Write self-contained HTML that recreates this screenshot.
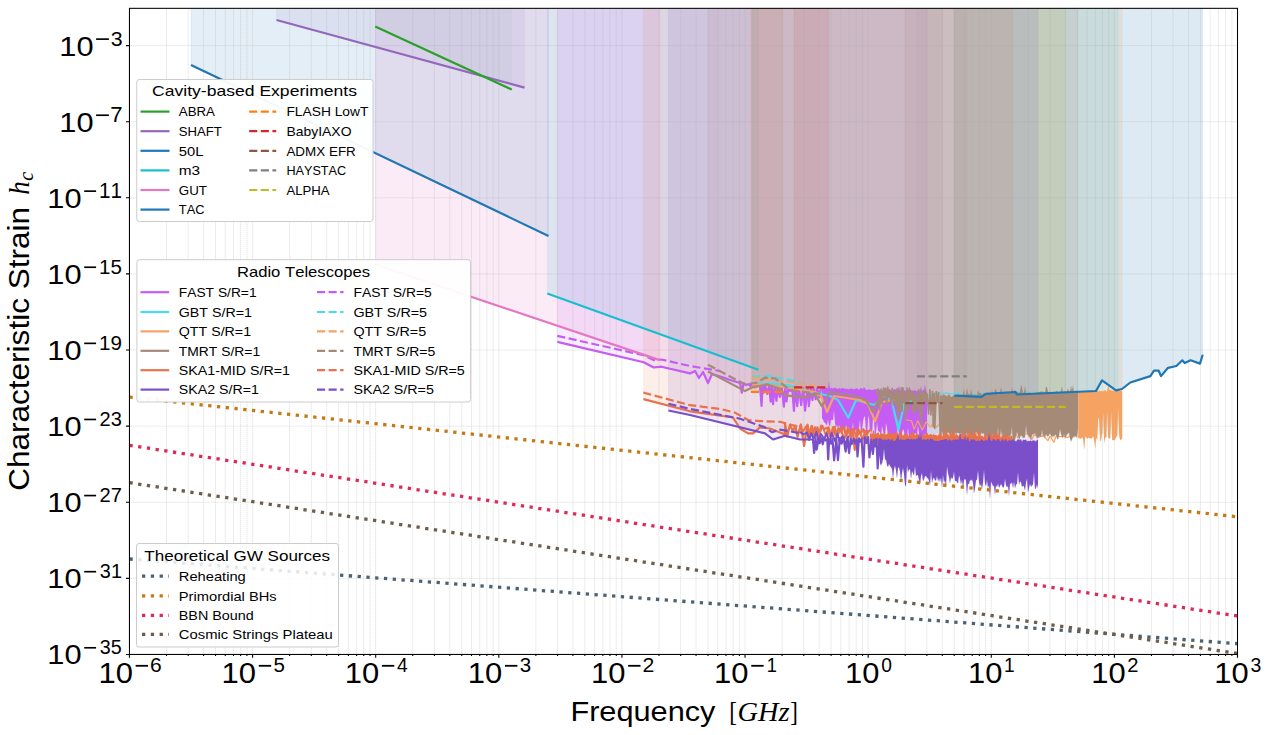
<!DOCTYPE html><html><head><meta charset="utf-8"><style>html,body{margin:0;padding:0;background:#fff;width:1269px;height:735px;overflow:hidden}</style></head><body><svg width="1269" height="735" viewBox="0 0 1269 735" style="position:absolute;left:0;top:0;font-kerning:none">
<rect width="1269" height="735" fill="#fff"/>
<defs><clipPath id="ax"><rect x="129.46" y="8.33" width="1108.04" height="646.12"/></clipPath></defs>
<g clip-path="url(#ax)">
<polygon points="375.20,8.33 375.20,26.60 511.80,89.60 511.80,8.33" fill="#2ca02c" fill-opacity="0.046" stroke="#2ca02c" stroke-opacity="0.046" stroke-width="0.6"/>
<polygon points="276.50,8.33 276.50,20.00 524.50,87.60 524.50,8.33" fill="#9467bd" fill-opacity="0.097" stroke="#9467bd" stroke-opacity="0.097" stroke-width="0.6"/>
<polygon points="954.20,8.33 954.20,395.70 981.40,396.90 986.00,393.80 1015.60,392.00 1017.00,394.50 1096.00,391.00 1102.00,380.40 1116.00,390.30 1122.00,389.00 1130.30,382.50 1150.40,376.10 1154.00,370.70 1158.70,370.70 1161.00,376.10 1168.00,367.80 1176.40,366.00 1182.30,360.30 1184.70,363.10 1190.60,360.30 1200.00,363.60 1202.70,354.80 1202.70,8.33" fill="#1f77b4" fill-opacity="0.151" stroke="#1f77b4" stroke-opacity="0.151" stroke-width="0.6"/>
<polygon points="547.30,8.33 547.30,293.50 758.40,369.70 758.40,8.33" fill="#17becf" fill-opacity="0.137" stroke="#17becf" stroke-opacity="0.137" stroke-width="0.6"/>
<polygon points="375.50,8.33 375.50,264.60 659.70,360.10 659.70,8.33" fill="#e377c2" fill-opacity="0.145" stroke="#e377c2" stroke-opacity="0.145" stroke-width="0.6"/>
<polygon points="191.00,8.33 191.00,65.00 548.50,236.00 548.50,8.33" fill="#1f77b4" fill-opacity="0.123" stroke="#1f77b4" stroke-opacity="0.123" stroke-width="0.6"/>
<polygon points="750.90,8.33 750.90,391.80 782.80,391.80 782.80,8.33" fill="#ff7f0e" fill-opacity="0.162" stroke="#ff7f0e" stroke-opacity="0.162" stroke-width="0.6"/>
<polygon points="794.00,8.33 794.00,387.40 828.80,387.40 828.80,8.33" fill="#d62728" fill-opacity="0.149" stroke="#d62728" stroke-opacity="0.149" stroke-width="0.6"/>
<polygon points="905.30,8.33 905.30,403.10 942.60,403.10 942.60,8.33" fill="#8c564b" fill-opacity="0.099" stroke="#8c564b" stroke-opacity="0.099" stroke-width="0.6"/>
<polygon points="916.90,8.33 916.90,376.40 966.80,376.40 966.80,8.33" fill="#7f7f7f" fill-opacity="0.071" stroke="#7f7f7f" stroke-opacity="0.071" stroke-width="0.6"/>
<polygon points="954.20,8.33 954.20,406.80 1065.80,406.80 1065.80,8.33" fill="#bcbd22" fill-opacity="0.136" stroke="#bcbd22" stroke-opacity="0.136" stroke-width="0.6"/>
<polygon points="557.30,8.33 557.30,341.90 643.70,362.30 653.60,367.50 661.40,366.70 690.00,373.40 695.00,371.00 699.00,378.00 703.00,372.00 708.00,383.00 712.00,374.00 722.00,377.00 730.00,380.00 740.00,383.00 740.00,382.68 741.84,392.79 743.56,383.00 745.74,384.94 748.15,384.19 750.45,385.84 752.19,384.40 755.12,387.40 757.07,384.93 760.00,385.42 761.56,406.02 762.62,385.27 764.03,392.64 765.19,385.94 767.33,393.91 769.15,385.80 770.67,401.57 771.76,386.51 773.05,404.06 774.64,386.39 776.46,400.77 777.88,386.07 779.86,396.82 781.67,386.52 783.89,406.67 785.29,386.24 786.46,401.49 788.52,387.23 790.20,390.97 792.14,386.79 793.94,410.81 795.38,387.02 797.21,406.25 798.85,387.04 801.17,405.08 803.10,388.03 805.09,410.70 807.48,387.48 808.88,406.24 810.81,388.44 812.46,400.17 813.62,388.54 815.70,399.24 817.04,388.37 819.26,397.31 820.89,388.40 822.00,418.23 823.00,419.42 824.00,422.17 825.00,422.60 826.00,424.62 827.00,424.97 828.00,419.24 829.00,425.43 830.00,425.65 831.00,420.03 832.00,419.76 833.00,420.14 834.00,410.02 835.00,423.28 836.00,427.45 837.00,424.43 838.00,429.37 839.00,424.99 840.00,427.42 841.00,434.47 842.00,433.28 843.00,426.67 844.00,432.11 845.00,432.06 846.00,424.69 847.00,428.40 848.00,427.63 849.00,426.69 850.00,433.23 851.00,433.78 852.00,430.05 853.00,421.88 854.00,432.71 855.00,430.21 856.00,430.42 857.00,433.95 858.00,434.76 859.00,427.78 860.00,418.94 861.00,435.09 862.00,428.89 863.00,421.42 864.00,417.10 865.00,416.37 866.00,431.51 867.00,435.62 868.00,418.89 869.00,415.40 870.00,433.09 871.00,428.77 872.00,435.01 873.00,417.48 874.00,419.90 875.00,436.01 876.00,432.21 877.00,421.56 878.00,430.41 879.00,431.80 880.00,432.11 881.00,437.77 882.00,425.80 883.00,430.48 884.00,434.85 885.00,437.24 886.00,422.68 887.00,427.78 888.00,436.77 889.00,433.79 890.00,437.10 891.00,440.75 892.00,441.67 893.00,436.38 894.00,433.64 895.00,436.95 896.00,435.69 897.00,436.11 898.00,416.05 899.00,437.35 900.00,438.40 901.00,445.06 902.00,432.77 903.00,429.06 904.00,431.01 905.00,436.75 906.00,439.07 907.00,438.19 908.00,427.32 909.00,437.70 910.00,442.87 911.00,433.44 912.00,437.25 913.00,433.25 914.00,435.39 915.00,433.30 916.00,433.57 917.00,434.85 918.00,425.75 919.00,433.35 920.00,439.30 921.00,438.87 922.00,439.16 923.00,436.84 924.00,437.01 925.00,433.74 926.00,433.93 927.00,436.15 927.00,8.33" fill="#c45cf5" fill-opacity="0.103" stroke="#c45cf5" stroke-opacity="0.103" stroke-width="0.6"/>
<polygon points="752.00,8.33 752.00,383.80 775.00,383.80 790.00,385.60 810.00,391.70 830.00,396.00 838.00,400.00 848.30,417.70 856.00,400.00 874.00,405.00 886.00,395.00 892.00,402.00 898.50,430.00 904.00,404.00 925.00,395.00 925.00,433.38 930.45,436.50 936.70,432.25 940.51,434.02 946.44,432.78 952.32,434.02 958.57,432.99 964.93,437.74 969.91,433.95 976.55,435.14 983.03,433.20 986.78,437.46 991.25,433.51 995.73,435.77 998.75,432.44 1003.53,435.33 1007.02,431.86 1013.28,437.75 1017.57,431.87 1022.09,436.82 1025.34,431.38 1032.15,435.22 1037.21,432.41 1042.36,434.00 1049.22,433.33 1052.95,434.05 1056.96,431.55 1060.08,434.05 1065.87,433.41 1068.94,435.80 1074.25,432.43 1080.06,434.05 1086.54,431.85 1089.72,434.08 1094.69,432.50 1098.81,434.07 1103.43,433.59 1108.80,437.71 1112.39,432.28 1118.38,434.14 1118.38,8.33" fill="#44dcee" fill-opacity="0.168" stroke="#44dcee" stroke-opacity="0.168" stroke-width="0.6"/>
<polygon points="752.00,8.33 752.00,384.40 770.00,385.00 790.00,388.00 815.00,392.00 821.00,396.00 827.00,412.00 834.00,396.00 860.00,400.00 868.00,404.00 875.20,421.30 882.00,402.00 905.00,398.00 905.00,419.11 908.64,420.44 911.54,420.77 914.11,429.23 917.93,420.87 922.30,429.95 926.14,421.89 930.02,427.01 933.80,422.73 936.44,427.36 939.82,423.36 942.12,424.54 944.23,423.88 948.97,428.69 952.08,424.76 956.44,428.47 959.21,426.12 962.48,427.38 965.77,426.56 970.57,427.78 974.28,428.17 976.63,434.40 980.36,428.01 983.70,429.33 986.86,429.11 991.67,439.80 995.10,430.27 997.40,434.29 1000.04,431.11 1002.09,431.51 1006.14,431.87 1011.04,432.59 1015.65,432.98 1017.70,437.75 1020.43,432.95 1022.99,433.99 1027.31,433.78 1031.88,439.59 1034.13,434.68 1038.26,437.23 1043.06,435.83 1047.95,440.57 1049.98,436.25 1053.93,442.41 1056.17,436.11 1060.36,436.65 1064.94,436.17 1067.12,437.53 1070.85,436.37 1074.88,437.00 1078.20,437.67 1079.20,438.53 1080.20,438.22 1081.20,438.95 1082.20,436.77 1083.20,439.55 1084.20,449.50 1085.20,436.52 1086.20,436.98 1087.20,439.09 1088.20,437.75 1089.20,437.82 1090.20,438.51 1091.20,438.65 1092.20,437.61 1093.20,436.10 1094.20,439.91 1095.20,448.05 1096.20,437.46 1097.20,440.34 1098.20,417.17 1099.20,419.63 1100.20,441.29 1101.20,439.79 1102.20,432.15 1103.20,412.57 1104.20,442.97 1105.20,437.76 1106.20,437.50 1107.20,411.07 1108.20,437.23 1109.20,438.32 1110.20,438.30 1111.20,411.01 1112.20,440.30 1113.20,440.10 1114.20,440.37 1115.20,439.15 1116.20,436.77 1117.20,436.21 1118.20,408.09 1119.20,435.64 1120.20,440.14 1121.20,439.39 1122.20,438.54 1122.20,8.33" fill="#f5a262" fill-opacity="0.155" stroke="#f5a262" stroke-opacity="0.155" stroke-width="0.6"/>
<polygon points="708.00,8.33 708.00,371.50 745.00,391.10 752.00,387.50 767.00,384.40 780.00,388.70 785.00,395.40 805.00,397.30 815.00,394.20 822.00,406.40 830.00,392.00 857.00,396.50 866.00,400.00 873.00,412.00 879.00,398.00 885.00,398.00 885.55,388.22 886.57,404.95 887.83,387.11 888.66,397.25 889.60,389.75 890.88,404.24 892.28,388.32 893.38,404.88 894.95,390.63 896.37,406.12 897.19,388.52 898.09,418.98 899.19,391.51 900.01,411.15 901.27,387.84 902.02,411.11 902.83,387.81 903.57,400.24 904.24,390.80 905.73,420.28 907.07,387.95 908.60,411.03 909.38,388.41 910.73,399.59 911.99,391.36 912.97,412.17 913.74,393.34 914.62,413.11 916.17,392.89 917.74,409.66 918.69,389.56 920.12,416.64 920.76,391.43 921.74,426.51 922.53,392.09 924.03,401.19 925.04,390.01 926.40,402.54 927.04,393.88 928.56,413.92 929.91,389.88 930.85,415.00 932.40,391.44 933.27,427.08 934.18,393.26 934.79,428.40 936.30,391.60 937.85,402.23 938.68,392.54 940.24,434.16 940.00,433.95 941.00,436.29 942.00,430.73 943.00,435.47 944.00,436.39 945.00,433.80 946.00,435.94 947.00,432.79 948.00,432.50 949.00,433.08 950.00,436.49 951.00,436.60 952.00,431.73 953.00,433.54 954.00,442.36 955.00,431.99 956.00,435.08 957.00,432.49 958.00,432.99 959.00,433.12 960.00,433.67 961.00,432.58 962.00,434.20 963.00,436.82 964.00,433.90 965.00,441.74 966.00,432.25 967.00,434.12 968.00,436.93 969.00,432.75 970.00,432.36 971.00,443.54 972.00,435.96 973.00,436.21 974.00,435.06 975.00,432.92 976.00,432.34 977.00,432.31 978.00,434.41 979.00,436.92 980.00,438.53 981.00,432.33 982.00,433.82 983.00,433.39 984.00,433.10 985.00,441.74 986.00,435.92 987.00,436.48 988.00,436.14 989.00,443.90 990.00,436.27 991.00,436.51 992.00,436.83 993.00,433.84 994.00,443.12 995.00,438.43 996.00,436.30 997.00,437.53 998.00,425.93 999.00,440.65 1000.00,438.19 1001.00,427.85 1002.00,437.69 1003.00,432.77 1004.00,437.48 1005.00,436.16 1006.00,440.74 1007.00,437.72 1008.00,438.85 1009.00,435.79 1010.00,437.57 1011.00,433.04 1012.00,426.83 1013.00,442.38 1014.00,445.68 1015.00,440.07 1016.00,435.75 1017.00,431.65 1018.00,435.08 1019.00,440.13 1020.00,437.43 1021.00,435.31 1022.00,435.94 1023.00,438.32 1024.00,437.40 1025.00,437.38 1026.00,424.60 1027.00,434.34 1028.00,434.14 1029.00,437.02 1030.00,437.13 1031.00,440.25 1032.00,434.61 1033.00,434.23 1034.00,433.82 1035.00,433.21 1036.00,435.54 1037.00,438.41 1038.00,436.93 1039.00,437.69 1040.00,435.45 1041.00,437.40 1042.00,429.66 1043.00,436.91 1044.00,435.37 1045.00,437.95 1046.00,433.63 1047.00,436.29 1048.00,436.15 1049.00,435.25 1050.00,432.90 1051.00,435.44 1052.00,437.69 1053.00,435.24 1054.00,436.94 1055.00,434.97 1056.00,434.56 1057.00,438.45 1058.00,439.58 1059.00,435.86 1060.00,429.07 1061.00,433.48 1062.00,437.09 1063.00,437.93 1064.00,433.68 1065.00,438.76 1066.00,436.22 1067.00,434.35 1068.00,433.51 1069.00,432.55 1070.00,438.38 1071.00,441.83 1072.00,439.37 1073.00,436.88 1074.00,436.18 1075.00,436.38 1076.00,436.03 1077.00,438.04 1078.00,428.27 1078.00,8.33" fill="#a68a78" fill-opacity="0.117" stroke="#a68a78" stroke-opacity="0.117" stroke-width="0.6"/>
<polygon points="643.40,8.33 643.40,399.10 690.00,411.30 733.00,417.50 740.00,428.50 748.00,433.40 753.00,433.40 760.00,427.30 770.00,428.50 785.00,434.60 785.00,423.19 787.28,436.57 789.83,425.10 793.21,431.53 795.19,425.59 797.56,436.82 800.89,424.49 804.08,446.01 807.50,424.52 809.50,435.76 811.73,425.98 813.37,434.61 814.91,427.34 818.35,439.35 821.11,425.70 824.38,429.13 827.17,427.68 830.02,436.00 833.37,426.98 835.37,435.11 838.77,428.30 840.88,431.49 843.57,426.58 846.10,436.11 848.67,429.30 850.42,434.35 852.73,429.12 854.72,449.83 857.90,428.46 860.54,433.77 863.46,429.23 866.05,437.32 868.17,430.17 870.00,453.13 871.20,442.99 872.40,442.01 873.60,442.87 874.80,443.78 876.00,443.43 877.20,443.83 878.40,444.36 879.60,443.39 880.80,444.00 882.00,443.04 883.20,442.84 884.40,443.03 885.60,443.46 886.80,444.25 888.00,457.60 889.20,443.38 890.40,442.95 891.60,443.83 892.80,443.50 894.00,443.15 895.20,444.30 896.40,443.40 897.60,444.85 898.80,443.43 900.00,443.73 901.20,444.30 902.40,444.48 903.60,443.63 904.80,443.71 906.00,442.32 907.20,443.86 908.40,443.00 909.60,442.35 910.80,468.16 912.00,443.94 913.20,443.04 914.40,445.00 915.60,444.29 916.80,444.53 918.00,445.08 919.20,443.34 920.40,443.25 921.60,442.32 922.80,442.51 924.00,444.76 925.20,443.40 926.40,442.97 927.60,445.00 928.80,442.95 930.00,443.14 931.20,443.28 932.40,443.33 933.60,443.88 934.80,442.78 936.00,444.74 937.20,442.52 938.40,444.43 939.60,444.35 940.80,445.74 942.00,452.35 943.20,444.23 944.40,466.94 945.60,451.22 946.80,445.31 948.00,444.83 949.20,443.87 950.40,444.50 951.60,444.17 952.80,445.07 954.00,444.30 955.20,443.29 956.40,443.41 957.60,443.77 958.80,443.73 960.00,444.75 961.20,443.11 962.40,443.37 963.60,444.21 964.80,445.07 966.00,443.16 967.20,442.87 968.40,444.82 969.60,445.40 970.80,445.68 972.00,443.90 973.20,444.59 974.40,444.83 975.60,444.45 976.80,443.22 978.00,455.58 979.20,445.58 980.40,444.58 981.60,445.53 982.80,444.76 984.00,444.46 985.20,445.99 986.40,444.94 987.60,445.08 988.80,445.19 990.00,444.91 991.20,443.53 992.40,445.79 993.60,444.68 994.80,444.77 996.00,445.84 997.20,446.24 998.40,443.80 999.60,452.26 1000.80,443.96 1002.00,445.20 1003.20,443.85 1004.40,445.84 1005.60,462.45 1006.80,443.74 1008.00,444.76 1009.20,445.84 1010.40,444.59 1011.60,445.89 1012.80,444.99 1012.80,8.33" fill="#e8724c" fill-opacity="0.12" stroke="#e8724c" stroke-opacity="0.12" stroke-width="0.6"/>
<polygon points="668.40,8.33 668.40,410.50 690.00,415.00 765.00,433.40 773.00,439.50 785.00,435.80 800.00,439.50 813.00,439.50 813.00,439.89 814.14,452.90 815.55,438.57 816.65,449.63 818.69,438.17 819.69,443.19 821.75,438.23 822.71,444.34 824.21,438.27 825.62,440.37 827.27,439.00 828.20,459.36 829.16,439.56 830.93,443.67 832.48,439.21 834.12,460.35 836.31,439.90 837.94,460.07 839.84,438.10 841.57,443.74 843.50,437.38 845.62,451.53 847.52,437.78 849.08,452.99 850.69,438.78 851.67,444.06 853.86,438.56 855.23,443.35 856.59,439.59 857.50,456.37 858.98,438.29 860.27,441.57 861.56,439.07 863.41,466.64 864.75,437.24 866.41,442.85 868.06,437.04 869.43,457.49 871.45,439.80 872.98,453.81 874.22,439.93 875.33,446.48 876.52,438.80 877.68,468.40 879.42,439.41 881.27,463.45 880.00,462.99 881.00,465.76 882.00,461.99 883.00,459.49 884.00,448.60 885.00,460.32 886.00,459.31 887.00,465.33 888.00,466.93 889.00,463.85 890.00,465.94 891.00,467.37 892.00,468.89 893.00,478.59 894.00,469.15 895.00,465.57 896.00,470.40 897.00,477.99 898.00,468.03 899.00,467.14 900.00,471.57 901.00,480.79 902.00,472.83 903.00,467.92 904.00,474.06 905.00,484.65 906.00,486.48 907.00,464.72 908.00,472.27 909.00,469.18 910.00,469.41 911.00,478.67 912.00,470.96 913.00,473.17 914.00,475.50 915.00,465.94 916.00,475.89 917.00,475.07 918.00,475.33 919.00,480.04 920.00,484.70 921.00,475.72 922.00,473.26 923.00,481.33 924.00,479.20 925.00,476.20 926.00,475.87 927.00,477.69 928.00,478.19 929.00,480.70 930.00,485.77 931.00,470.61 932.00,482.87 933.00,478.45 934.00,477.69 935.00,480.33 936.00,480.75 937.00,475.86 938.00,481.59 939.00,478.31 940.00,481.99 941.00,477.16 942.00,487.46 943.00,474.79 944.00,482.72 945.00,480.06 946.00,487.62 947.00,465.88 948.00,472.99 949.00,477.06 950.00,483.28 951.00,476.92 952.00,479.04 953.00,477.53 954.00,471.79 955.00,481.29 956.00,480.46 957.00,482.14 958.00,483.43 959.00,475.36 960.00,478.58 961.00,484.46 962.00,479.79 963.00,488.37 964.00,480.26 965.00,478.59 966.00,480.85 967.00,494.68 968.00,483.53 969.00,484.28 970.00,479.48 971.00,480.88 972.00,479.35 973.00,482.62 974.00,493.29 975.00,488.01 976.00,480.24 977.00,479.63 978.00,470.13 979.00,481.78 980.00,486.55 981.00,483.86 982.00,489.28 983.00,482.39 984.00,470.02 985.00,483.83 986.00,486.15 987.00,480.04 988.00,488.05 989.00,485.00 990.00,498.17 991.00,481.53 992.00,483.38 993.00,486.00 994.00,485.73 995.00,494.67 996.00,485.20 997.00,487.11 998.00,483.41 999.00,487.66 1000.00,486.33 1001.00,483.74 1002.00,485.81 1003.00,487.71 1004.00,486.92 1005.00,478.77 1006.00,485.17 1007.00,487.14 1008.00,486.04 1009.00,495.82 1010.00,483.43 1011.00,483.74 1012.00,482.15 1013.00,488.24 1014.00,481.54 1015.00,488.21 1016.00,484.39 1017.00,483.89 1018.00,472.16 1019.00,484.57 1020.00,481.32 1021.00,482.24 1022.00,487.12 1023.00,485.54 1024.00,486.65 1025.00,490.41 1026.00,482.46 1027.00,478.59 1028.00,492.85 1029.00,488.12 1030.00,483.68 1031.00,486.69 1032.00,485.41 1033.00,484.60 1034.00,472.25 1035.00,489.32 1036.00,487.88 1037.00,484.35 1038.00,488.15 1038.00,8.33" fill="#7b4fc9" fill-opacity="0.116" stroke="#7b4fc9" stroke-opacity="0.116" stroke-width="0.6"/>
<polygon points="557.30,8.33 557.30,335.90 643.70,355.20 653.60,360.10 661.40,359.50 690.00,366.00 720.00,371.00 720.00,8.33" fill="#c45cf5" fill-opacity="0.02" stroke="#c45cf5" stroke-opacity="0.02" stroke-width="0.6"/>
<path d="M129.46 8.33V654.45M166.52 8.33V654.45M188.20 8.33V654.45M203.58 8.33V654.45M215.51 8.33V654.45M225.26 8.33V654.45M233.50 8.33V654.45M240.64 8.33V654.45M246.94 8.33V654.45M252.58 8.33V654.45M289.64 8.33V654.45M311.32 8.33V654.45M326.70 8.33V654.45M338.63 8.33V654.45M348.38 8.33V654.45M356.62 8.33V654.45M363.76 8.33V654.45M370.06 8.33V654.45M375.69 8.33V654.45M412.75 8.33V654.45M434.43 8.33V654.45M449.81 8.33V654.45M461.75 8.33V654.45M471.49 8.33V654.45M479.74 8.33V654.45M486.88 8.33V654.45M493.17 8.33V654.45M498.81 8.33V654.45M535.87 8.33V654.45M557.55 8.33V654.45M572.93 8.33V654.45M584.86 8.33V654.45M594.61 8.33V654.45M602.85 8.33V654.45M609.99 8.33V654.45M616.29 8.33V654.45M621.92 8.33V654.45M658.98 8.33V654.45M680.66 8.33V654.45M696.05 8.33V654.45M707.98 8.33V654.45M717.72 8.33V654.45M725.97 8.33V654.45M733.11 8.33V654.45M739.40 8.33V654.45M745.04 8.33V654.45M782.10 8.33V654.45M803.78 8.33V654.45M819.16 8.33V654.45M831.09 8.33V654.45M840.84 8.33V654.45M849.08 8.33V654.45M856.22 8.33V654.45M862.52 8.33V654.45M868.15 8.33V654.45M905.21 8.33V654.45M926.89 8.33V654.45M942.28 8.33V654.45M954.21 8.33V654.45M963.96 8.33V654.45M972.20 8.33V654.45M979.34 8.33V654.45M985.64 8.33V654.45M991.27 8.33V654.45M1028.33 8.33V654.45M1050.01 8.33V654.45M1065.39 8.33V654.45M1077.32 8.33V654.45M1087.07 8.33V654.45M1095.31 8.33V654.45M1102.45 8.33V654.45M1108.75 8.33V654.45M1114.38 8.33V654.45M1151.45 8.33V654.45M1173.13 8.33V654.45M1188.51 8.33V654.45M1200.44 8.33V654.45M1210.19 8.33V654.45M1218.43 8.33V654.45M1225.57 8.33V654.45M1231.87 8.33V654.45M1237.50 8.33V654.45M129.46 45.60H1237.5M129.46 121.71H1237.5M129.46 197.82H1237.5M129.46 273.92H1237.5M129.46 350.03H1237.5M129.46 426.14H1237.5M129.46 502.25H1237.5M129.46 578.36H1237.5M129.46 654.46H1237.5" stroke="#a8a8a8" stroke-opacity="0.5" stroke-width="0.85" stroke-dasharray="1 1" fill="none"/>
<polyline points="557.30,341.90 643.70,362.30 653.60,367.50 661.40,366.70 690.00,373.40 695.00,371.00 699.00,378.00 703.00,372.00 708.00,383.00 712.00,374.00 722.00,377.00 730.00,380.00 740.00,383.00 740.00,382.68 741.84,392.79 743.56,383.00 745.74,384.94 748.15,384.19 750.45,385.84 752.19,384.40 755.12,387.40 757.07,384.93 760.00,385.42 761.56,406.02 762.62,385.27 764.03,392.64 765.19,385.94 767.33,393.91 769.15,385.80 770.67,401.57 771.76,386.51 773.05,404.06 774.64,386.39 776.46,400.77 777.88,386.07 779.86,396.82 781.67,386.52 783.89,406.67 785.29,386.24 786.46,401.49 788.52,387.23 790.20,390.97 792.14,386.79 793.94,410.81 795.38,387.02 797.21,406.25 798.85,387.04 801.17,405.08 803.10,388.03 805.09,410.70 807.48,387.48 808.88,406.24 810.81,388.44 812.46,400.17 813.62,388.54 815.70,399.24 817.04,388.37 819.26,397.31 820.89,388.40" fill="none" stroke="#c45cf5" stroke-width="2.2" stroke-linejoin="round"/>
<polygon points="822.00,387.36 823.00,387.26 824.00,388.09 825.00,387.95 826.00,387.76 827.00,387.54 828.00,388.75 829.00,381.47 830.00,388.49 831.00,388.28 832.00,387.62 833.00,389.01 834.00,387.61 835.00,388.30 836.00,387.42 837.00,388.96 838.00,388.93 839.00,387.50 840.00,389.11 841.00,388.57 842.00,387.99 843.00,387.98 844.00,388.16 845.00,389.35 846.00,388.57 847.00,388.64 848.00,389.30 849.00,389.23 850.00,388.86 851.00,388.80 852.00,388.23 853.00,389.21 854.00,389.39 855.00,388.40 856.00,388.92 857.00,388.09 858.00,388.88 859.00,389.88 860.00,388.26 861.00,388.15 862.00,388.13 863.00,389.46 864.00,386.63 865.00,388.62 866.00,389.68 867.00,389.73 868.00,390.10 869.00,389.04 870.00,389.43 871.00,390.10 872.00,389.76 873.00,390.06 874.00,389.34 875.00,389.61 876.00,389.12 877.00,389.26 878.00,390.04 879.00,389.24 880.00,390.30 881.00,389.54 882.00,390.66 883.00,390.68 884.00,390.11 885.00,389.43 886.00,388.81 887.00,389.02 888.00,389.82 889.00,389.08 890.00,390.17 891.00,389.66 892.00,389.94 893.00,390.82 894.00,389.05 895.00,389.49 896.00,389.57 897.00,389.74 898.00,390.18 899.00,385.59 900.00,390.63 901.00,390.91 902.00,389.45 903.00,387.27 904.00,390.65 905.00,391.07 906.00,390.59 907.00,390.51 908.00,389.52 909.00,389.50 910.00,389.56 911.00,389.97 912.00,390.81 913.00,390.22 914.00,391.14 915.00,389.59 916.00,391.43 917.00,390.14 918.00,390.99 919.00,390.44 920.00,390.92 921.00,386.03 922.00,391.78 923.00,389.86 924.00,389.95 925.00,384.50 926.00,391.28 927.00,391.69 927.00,436.15 926.00,433.93 925.00,433.74 924.00,437.01 923.00,436.84 922.00,439.16 921.00,438.87 920.00,439.30 919.00,433.35 918.00,425.75 917.00,434.85 916.00,433.57 915.00,433.30 914.00,435.39 913.00,433.25 912.00,437.25 911.00,433.44 910.00,442.87 909.00,437.70 908.00,427.32 907.00,438.19 906.00,439.07 905.00,436.75 904.00,431.01 903.00,429.06 902.00,432.77 901.00,445.06 900.00,438.40 899.00,437.35 898.00,416.05 897.00,436.11 896.00,435.69 895.00,436.95 894.00,433.64 893.00,436.38 892.00,441.67 891.00,440.75 890.00,437.10 889.00,433.79 888.00,436.77 887.00,427.78 886.00,422.68 885.00,437.24 884.00,434.85 883.00,430.48 882.00,425.80 881.00,437.77 880.00,432.11 879.00,431.80 878.00,430.41 877.00,421.56 876.00,432.21 875.00,436.01 874.00,419.90 873.00,417.48 872.00,435.01 871.00,428.77 870.00,433.09 869.00,415.40 868.00,418.89 867.00,435.62 866.00,431.51 865.00,416.37 864.00,417.10 863.00,421.42 862.00,428.89 861.00,435.09 860.00,418.94 859.00,427.78 858.00,434.76 857.00,433.95 856.00,430.42 855.00,430.21 854.00,432.71 853.00,421.88 852.00,430.05 851.00,433.78 850.00,433.23 849.00,426.69 848.00,427.63 847.00,428.40 846.00,424.69 845.00,432.06 844.00,432.11 843.00,426.67 842.00,433.28 841.00,434.47 840.00,427.42 839.00,424.99 838.00,429.37 837.00,424.43 836.00,427.45 835.00,423.28 834.00,410.02 833.00,420.14 832.00,419.76 831.00,420.03 830.00,425.65 829.00,425.43 828.00,419.24 827.00,424.97 826.00,424.62 825.00,422.60 824.00,422.17 823.00,419.42 822.00,418.23" fill="#c45cf5"/>
<polyline points="752.00,383.80 775.00,383.80 790.00,385.60 810.00,391.70 830.00,396.00 838.00,400.00 848.30,417.70 856.00,400.00 874.00,405.00 886.00,395.00 892.00,402.00 898.50,430.00 904.00,404.00 925.00,395.00" fill="none" stroke="#44dcee" stroke-width="2.2" stroke-linejoin="round"/>
<polyline points="925.00,393.38 930.45,396.50 936.70,392.25 940.51,394.02 946.44,392.78 952.32,394.02 958.57,392.99 964.93,397.74 969.91,393.95 976.55,395.14 983.03,393.20 986.78,397.46 991.25,393.51 995.73,395.77 998.75,392.44 1003.53,395.33 1007.02,391.86 1013.28,397.75 1017.57,391.87 1022.09,396.82 1025.34,391.38 1032.15,395.22 1037.21,392.41 1042.36,394.00 1049.22,393.33 1052.95,394.05 1056.96,391.55 1060.08,394.05 1065.87,393.41 1068.94,395.80 1074.25,392.43 1080.06,394.05 1086.54,391.85 1089.72,394.08 1094.69,392.50 1098.81,394.07 1103.43,393.59 1108.80,397.71 1112.39,392.28 1118.38,394.14" fill="none" stroke="#44dcee" stroke-width="1.2" stroke-linejoin="round"/>
<polyline points="752.00,384.40 770.00,385.00 790.00,388.00 815.00,392.00 821.00,396.00 827.00,412.00 834.00,396.00 860.00,400.00 868.00,404.00 875.20,421.30 882.00,402.00 905.00,398.00" fill="none" stroke="#f5a262" stroke-width="2.2" stroke-linejoin="round"/>
<polyline points="905.00,419.11 908.64,420.44 911.54,420.77 914.11,429.23 917.93,420.87 922.30,429.95 926.14,421.89 930.02,427.01 933.80,422.73 936.44,427.36 939.82,423.36 942.12,424.54 944.23,423.88 948.97,428.69 952.08,424.76 956.44,428.47 959.21,426.12 962.48,427.38 965.77,426.56 970.57,427.78 974.28,428.17 976.63,434.40 980.36,428.01 983.70,429.33 986.86,429.11 991.67,439.80 995.10,430.27 997.40,434.29 1000.04,431.11 1002.09,431.51 1006.14,431.87 1011.04,432.59 1015.65,432.98 1017.70,437.75 1020.43,432.95 1022.99,433.99 1027.31,433.78 1031.88,439.59 1034.13,434.68 1038.26,437.23 1043.06,435.83 1047.95,440.57 1049.98,436.25 1053.93,442.41 1056.17,436.11 1060.36,436.65 1064.94,436.17 1067.12,437.53 1070.85,436.37 1074.88,437.00" fill="none" stroke="#f5a262" stroke-width="1.2" stroke-linejoin="round"/>
<polygon points="1078.20,392.26 1079.20,391.37 1080.20,392.78 1081.20,391.64 1082.20,391.95 1083.20,390.97 1084.20,391.54 1085.20,390.94 1086.20,391.26 1087.20,390.99 1088.20,391.32 1089.20,390.99 1090.20,390.90 1091.20,391.36 1092.20,391.99 1093.20,391.27 1094.20,392.05 1095.20,391.53 1096.20,391.20 1097.20,390.23 1098.20,392.01 1099.20,390.30 1100.20,391.20 1101.20,390.66 1102.20,391.58 1103.20,391.15 1104.20,390.39 1105.20,389.88 1106.20,391.51 1107.20,391.34 1108.20,383.82 1109.20,389.80 1110.20,389.85 1111.20,390.54 1112.20,390.34 1113.20,391.09 1114.20,390.37 1115.20,391.20 1116.20,390.69 1117.20,389.22 1118.20,391.06 1119.20,390.45 1120.20,390.71 1121.20,390.76 1122.20,390.84 1122.20,438.54 1121.20,439.39 1120.20,440.14 1119.20,435.64 1118.20,408.09 1117.20,436.21 1116.20,436.77 1115.20,439.15 1114.20,440.37 1113.20,440.10 1112.20,440.30 1111.20,411.01 1110.20,438.30 1109.20,438.32 1108.20,437.23 1107.20,411.07 1106.20,437.50 1105.20,437.76 1104.20,442.97 1103.20,412.57 1102.20,432.15 1101.20,439.79 1100.20,441.29 1099.20,419.63 1098.20,417.17 1097.20,440.34 1096.20,437.46 1095.20,448.05 1094.20,439.91 1093.20,436.10 1092.20,437.61 1091.20,438.65 1090.20,438.51 1089.20,437.82 1088.20,437.75 1087.20,439.09 1086.20,436.98 1085.20,436.52 1084.20,449.50 1083.20,439.55 1082.20,436.77 1081.20,438.95 1080.20,438.22 1079.20,438.53 1078.20,437.67" fill="#f5a262"/>
<polyline points="876.00,389.88 877.20,393.94 878.10,388.83 879.66,409.99 881.15,388.95 881.98,403.85 883.54,387.95 884.45,395.82 885.55,388.22 886.57,404.95 887.83,387.11 888.66,397.25 889.60,389.75 890.88,404.24 892.28,388.32 893.38,404.88 894.95,390.63 896.37,406.12 897.19,388.52 898.09,418.98 899.19,391.51 900.01,411.15 901.27,387.84 902.02,411.11 902.83,387.81 903.57,400.24 904.24,390.80 905.73,420.28 907.07,387.95 908.60,411.03 909.38,388.41 910.73,399.59 911.99,391.36 912.97,412.17 913.74,393.34 914.62,413.11 916.17,392.89 917.74,409.66 918.69,389.56 920.12,416.64 920.76,391.43 921.74,426.51 922.53,392.09 924.03,401.19 925.04,390.01 926.40,402.54 927.04,393.88 928.56,413.92 929.91,389.88 930.85,415.00 932.40,391.44 933.27,427.08 934.18,393.26 934.79,428.40 936.30,391.60 937.85,402.23 938.68,392.54 940.24,434.16" fill="none" stroke="#a68a78" stroke-width="1.6" stroke-linejoin="round"/>
<polygon points="940.00,396.25 941.00,394.59 942.00,396.02 943.00,394.74 944.00,394.06 945.00,395.50 946.00,395.14 947.00,396.64 948.00,394.79 949.00,394.35 950.00,395.48 951.00,396.69 952.00,396.88 953.00,395.25 954.00,396.22 955.00,396.30 956.00,395.10 957.00,396.30 958.00,393.45 959.00,394.67 960.00,395.77 961.00,393.67 962.00,396.59 963.00,393.91 964.00,388.80 965.00,395.61 966.00,393.51 967.00,387.50 968.00,393.84 969.00,393.72 970.00,394.66 971.00,388.97 972.00,394.32 973.00,394.32 974.00,395.95 975.00,393.63 976.00,395.53 977.00,395.75 978.00,390.25 979.00,393.20 980.00,392.78 981.00,393.31 982.00,395.15 983.00,394.07 984.00,393.11 985.00,392.79 986.00,394.35 987.00,395.06 988.00,394.53 989.00,393.95 990.00,393.31 991.00,393.98 992.00,390.63 993.00,394.76 994.00,394.42 995.00,389.43 996.00,388.98 997.00,393.55 998.00,394.70 999.00,394.75 1000.00,393.22 1001.00,386.67 1002.00,392.40 1003.00,394.27 1004.00,392.46 1005.00,393.18 1006.00,391.55 1007.00,392.16 1008.00,393.36 1009.00,392.30 1010.00,391.67 1011.00,393.56 1012.00,386.64 1013.00,392.20 1014.00,391.60 1015.00,389.52 1016.00,392.09 1017.00,391.71 1018.00,393.13 1019.00,392.46 1020.00,391.64 1021.00,384.81 1022.00,387.08 1023.00,392.45 1024.00,393.08 1025.00,385.71 1026.00,392.85 1027.00,393.83 1028.00,392.76 1029.00,391.63 1030.00,393.41 1031.00,392.56 1032.00,393.15 1033.00,393.39 1034.00,393.37 1035.00,393.54 1036.00,391.45 1037.00,393.50 1038.00,391.74 1039.00,392.00 1040.00,392.08 1041.00,391.15 1042.00,391.86 1043.00,391.43 1044.00,392.40 1045.00,393.21 1046.00,386.48 1047.00,387.59 1048.00,391.82 1049.00,393.10 1050.00,390.77 1051.00,393.67 1052.00,392.91 1053.00,393.04 1054.00,391.36 1055.00,393.00 1056.00,391.23 1057.00,391.17 1058.00,392.90 1059.00,392.92 1060.00,391.67 1061.00,390.92 1062.00,385.97 1063.00,393.19 1064.00,390.90 1065.00,391.26 1066.00,393.00 1067.00,390.94 1068.00,388.36 1069.00,391.95 1070.00,391.88 1071.00,385.58 1072.00,390.75 1073.00,385.10 1074.00,392.43 1075.00,392.22 1076.00,391.03 1077.00,390.58 1078.00,392.60 1078.00,428.27 1077.00,438.04 1076.00,436.03 1075.00,436.38 1074.00,436.18 1073.00,436.88 1072.00,439.37 1071.00,441.83 1070.00,438.38 1069.00,432.55 1068.00,433.51 1067.00,434.35 1066.00,436.22 1065.00,438.76 1064.00,433.68 1063.00,437.93 1062.00,437.09 1061.00,433.48 1060.00,429.07 1059.00,435.86 1058.00,439.58 1057.00,438.45 1056.00,434.56 1055.00,434.97 1054.00,436.94 1053.00,435.24 1052.00,437.69 1051.00,435.44 1050.00,432.90 1049.00,435.25 1048.00,436.15 1047.00,436.29 1046.00,433.63 1045.00,437.95 1044.00,435.37 1043.00,436.91 1042.00,429.66 1041.00,437.40 1040.00,435.45 1039.00,437.69 1038.00,436.93 1037.00,438.41 1036.00,435.54 1035.00,433.21 1034.00,433.82 1033.00,434.23 1032.00,434.61 1031.00,440.25 1030.00,437.13 1029.00,437.02 1028.00,434.14 1027.00,434.34 1026.00,424.60 1025.00,437.38 1024.00,437.40 1023.00,438.32 1022.00,435.94 1021.00,435.31 1020.00,437.43 1019.00,440.13 1018.00,435.08 1017.00,431.65 1016.00,435.75 1015.00,440.07 1014.00,445.68 1013.00,442.38 1012.00,426.83 1011.00,433.04 1010.00,437.57 1009.00,435.79 1008.00,438.85 1007.00,437.72 1006.00,440.74 1005.00,436.16 1004.00,437.48 1003.00,432.77 1002.00,437.69 1001.00,427.85 1000.00,438.19 999.00,440.65 998.00,425.93 997.00,437.53 996.00,436.30 995.00,438.43 994.00,443.12 993.00,433.84 992.00,436.83 991.00,436.51 990.00,436.27 989.00,443.90 988.00,436.14 987.00,436.48 986.00,435.92 985.00,441.74 984.00,433.10 983.00,433.39 982.00,433.82 981.00,432.33 980.00,438.53 979.00,436.92 978.00,434.41 977.00,432.31 976.00,432.34 975.00,432.92 974.00,435.06 973.00,436.21 972.00,435.96 971.00,443.54 970.00,432.36 969.00,432.75 968.00,436.93 967.00,434.12 966.00,432.25 965.00,441.74 964.00,433.90 963.00,436.82 962.00,434.20 961.00,432.58 960.00,433.67 959.00,433.12 958.00,432.99 957.00,432.49 956.00,435.08 955.00,431.99 954.00,442.36 953.00,433.54 952.00,431.73 951.00,436.60 950.00,436.49 949.00,433.08 948.00,432.50 947.00,432.79 946.00,435.94 945.00,433.80 944.00,436.39 943.00,435.47 942.00,430.73 941.00,436.29 940.00,433.95" fill="#a68a78"/>
<polyline points="708.00,371.50 745.00,391.10 752.00,387.50 767.00,384.40 780.00,388.70 785.00,395.40 805.00,397.30 815.00,394.20 822.00,406.40 830.00,392.00 857.00,396.50 866.00,400.00 873.00,412.00 879.00,398.00 885.00,398.00" fill="none" stroke="#a68a78" stroke-width="2.2" stroke-linejoin="round"/>
<polyline points="643.40,399.10 690.00,411.30 733.00,417.50 740.00,428.50 748.00,433.40 753.00,433.40 760.00,427.30 770.00,428.50 785.00,434.60 785.00,423.19 787.28,436.57 789.83,425.10 793.21,431.53 795.19,425.59 797.56,436.82 800.89,424.49 804.08,446.01 807.50,424.52 809.50,435.76 811.73,425.98 813.37,434.61 814.91,427.34 818.35,439.35 821.11,425.70 824.38,429.13 827.17,427.68 830.02,436.00 833.37,426.98 835.37,435.11 838.77,428.30 840.88,431.49 843.57,426.58 846.10,436.11 848.67,429.30 850.42,434.35 852.73,429.12 854.72,449.83 857.90,428.46 860.54,433.77 863.46,429.23 866.05,437.32 868.17,430.17" fill="none" stroke="#e8724c" stroke-width="2.2" stroke-linejoin="round"/>
<polygon points="870.00,432.95 871.20,434.07 872.40,433.87 873.60,429.44 874.80,434.20 876.00,433.72 877.20,433.08 878.40,432.04 879.60,435.18 880.80,432.94 882.00,433.73 883.20,433.71 884.40,431.90 885.60,434.75 886.80,434.05 888.00,433.67 889.20,431.72 890.40,433.36 891.60,434.05 892.80,433.98 894.00,431.64 895.20,434.15 896.40,431.64 897.60,432.82 898.80,434.97 900.00,434.90 901.20,428.99 902.40,435.66 903.60,434.91 904.80,433.60 906.00,435.12 907.20,433.69 908.40,435.75 909.60,435.15 910.80,434.45 912.00,432.04 913.20,432.18 914.40,434.71 915.60,434.98 916.80,432.47 918.00,434.57 919.20,435.57 920.40,435.56 921.60,434.94 922.80,435.48 924.00,435.61 925.20,434.74 926.40,432.37 927.60,433.37 928.80,435.24 930.00,434.20 931.20,433.64 932.40,435.59 933.60,434.08 934.80,435.10 936.00,434.76 937.20,435.87 938.40,435.02 939.60,433.06 940.80,432.82 942.00,435.71 943.20,435.81 944.40,434.81 945.60,426.89 946.80,433.43 948.00,433.85 949.20,436.29 950.40,433.72 951.60,433.91 952.80,426.65 954.00,432.87 955.20,435.34 956.40,433.97 957.60,435.04 958.80,436.28 960.00,433.83 961.20,433.84 962.40,433.29 963.60,436.50 964.80,426.77 966.00,433.08 967.20,436.27 968.40,434.54 969.60,428.78 970.80,434.55 972.00,433.80 973.20,435.87 974.40,430.55 975.60,433.58 976.80,436.03 978.00,435.48 979.20,425.97 980.40,436.17 981.60,435.57 982.80,436.17 984.00,437.03 985.20,433.94 986.40,437.18 987.60,433.64 988.80,432.05 990.00,434.86 991.20,435.27 992.40,435.36 993.60,435.45 994.80,435.31 996.00,431.60 997.20,434.62 998.40,434.35 999.60,434.60 1000.80,437.66 1002.00,436.05 1003.20,434.10 1004.40,434.75 1005.60,434.88 1006.80,435.65 1008.00,436.86 1009.20,436.34 1010.40,436.76 1011.60,435.80 1012.80,436.61 1012.80,444.99 1011.60,445.89 1010.40,444.59 1009.20,445.84 1008.00,444.76 1006.80,443.74 1005.60,462.45 1004.40,445.84 1003.20,443.85 1002.00,445.20 1000.80,443.96 999.60,452.26 998.40,443.80 997.20,446.24 996.00,445.84 994.80,444.77 993.60,444.68 992.40,445.79 991.20,443.53 990.00,444.91 988.80,445.19 987.60,445.08 986.40,444.94 985.20,445.99 984.00,444.46 982.80,444.76 981.60,445.53 980.40,444.58 979.20,445.58 978.00,455.58 976.80,443.22 975.60,444.45 974.40,444.83 973.20,444.59 972.00,443.90 970.80,445.68 969.60,445.40 968.40,444.82 967.20,442.87 966.00,443.16 964.80,445.07 963.60,444.21 962.40,443.37 961.20,443.11 960.00,444.75 958.80,443.73 957.60,443.77 956.40,443.41 955.20,443.29 954.00,444.30 952.80,445.07 951.60,444.17 950.40,444.50 949.20,443.87 948.00,444.83 946.80,445.31 945.60,451.22 944.40,466.94 943.20,444.23 942.00,452.35 940.80,445.74 939.60,444.35 938.40,444.43 937.20,442.52 936.00,444.74 934.80,442.78 933.60,443.88 932.40,443.33 931.20,443.28 930.00,443.14 928.80,442.95 927.60,445.00 926.40,442.97 925.20,443.40 924.00,444.76 922.80,442.51 921.60,442.32 920.40,443.25 919.20,443.34 918.00,445.08 916.80,444.53 915.60,444.29 914.40,445.00 913.20,443.04 912.00,443.94 910.80,468.16 909.60,442.35 908.40,443.00 907.20,443.86 906.00,442.32 904.80,443.71 903.60,443.63 902.40,444.48 901.20,444.30 900.00,443.73 898.80,443.43 897.60,444.85 896.40,443.40 895.20,444.30 894.00,443.15 892.80,443.50 891.60,443.83 890.40,442.95 889.20,443.38 888.00,457.60 886.80,444.25 885.60,443.46 884.40,443.03 883.20,442.84 882.00,443.04 880.80,444.00 879.60,443.39 878.40,444.36 877.20,443.83 876.00,443.43 874.80,443.78 873.60,442.87 872.40,442.01 871.20,442.99 870.00,453.13" fill="#e8724c"/>
<polyline points="800.00,424.77 802.68,431.92 806.29,426.39 808.67,436.56 811.73,426.25 815.07,437.25 817.34,427.19 819.47,433.28 822.47,426.00 825.81,435.24 828.62,427.27 831.16,437.90 834.74,426.90 837.04,436.84 840.55,428.31 844.35,439.26 847.83,427.86 851.13,439.57 853.39,428.60 856.80,437.70 859.35,430.92 862.56,439.91 865.10,430.88 867.55,433.20 870.90,429.00" fill="none" stroke="#e8724c" stroke-width="2.0" stroke-linejoin="round"/>
<polyline points="668.40,410.50 690.00,415.00 765.00,433.40 773.00,439.50 785.00,435.80 800.00,439.50 813.00,439.50 813.00,439.89 814.14,452.90 815.55,438.57 816.65,449.63 818.69,438.17 819.69,443.19 821.75,438.23 822.71,444.34 824.21,438.27 825.62,440.37 827.27,439.00 828.20,459.36 829.16,439.56 830.93,443.67 832.48,439.21 834.12,460.35 836.31,439.90 837.94,460.07 839.84,438.10 841.57,443.74 843.50,437.38 845.62,451.53 847.52,437.78 849.08,452.99 850.69,438.78 851.67,444.06 853.86,438.56 855.23,443.35 856.59,439.59 857.50,456.37 858.98,438.29 860.27,441.57 861.56,439.07 863.41,466.64 864.75,437.24 866.41,442.85 868.06,437.04 869.43,457.49 871.45,439.80 872.98,453.81 874.22,439.93 875.33,446.48 876.52,438.80 877.68,468.40 879.42,439.41 881.27,463.45" fill="none" stroke="#7b4fc9" stroke-width="2.2" stroke-linejoin="round"/>
<polygon points="880.00,438.57 881.00,438.38 882.00,438.76 883.00,440.85 884.00,439.54 885.00,439.34 886.00,440.05 887.00,439.77 888.00,439.25 889.00,438.77 890.00,439.70 891.00,441.04 892.00,438.11 893.00,440.90 894.00,440.64 895.00,441.01 896.00,439.19 897.00,438.40 898.00,433.44 899.00,439.24 900.00,440.43 901.00,438.15 902.00,440.34 903.00,439.69 904.00,439.79 905.00,440.08 906.00,439.27 907.00,438.96 908.00,438.42 909.00,438.81 910.00,439.90 911.00,438.56 912.00,439.15 913.00,439.72 914.00,438.56 915.00,439.69 916.00,439.27 917.00,438.61 918.00,438.32 919.00,432.78 920.00,440.12 921.00,432.28 922.00,440.32 923.00,439.74 924.00,439.05 925.00,439.44 926.00,440.62 927.00,439.13 928.00,438.52 929.00,440.59 930.00,438.83 931.00,438.87 932.00,438.92 933.00,439.25 934.00,440.89 935.00,440.23 936.00,441.18 937.00,440.63 938.00,440.76 939.00,441.24 940.00,440.15 941.00,439.65 942.00,440.27 943.00,439.82 944.00,440.01 945.00,438.74 946.00,439.40 947.00,439.11 948.00,441.12 949.00,439.30 950.00,439.69 951.00,440.44 952.00,440.67 953.00,439.93 954.00,439.06 955.00,440.35 956.00,439.07 957.00,439.89 958.00,439.10 959.00,440.13 960.00,431.82 961.00,438.74 962.00,439.49 963.00,438.77 964.00,440.28 965.00,434.81 966.00,440.84 967.00,438.81 968.00,436.96 969.00,441.28 970.00,441.22 971.00,438.75 972.00,440.09 973.00,439.79 974.00,439.05 975.00,440.56 976.00,440.86 977.00,441.40 978.00,439.83 979.00,441.23 980.00,441.14 981.00,439.01 982.00,440.03 983.00,440.55 984.00,440.93 985.00,440.20 986.00,439.42 987.00,440.80 988.00,439.89 989.00,433.17 990.00,439.26 991.00,440.48 992.00,441.25 993.00,438.78 994.00,439.38 995.00,439.85 996.00,441.24 997.00,439.25 998.00,439.34 999.00,439.14 1000.00,441.41 1001.00,441.06 1002.00,439.04 1003.00,439.39 1004.00,441.52 1005.00,439.28 1006.00,439.36 1007.00,441.16 1008.00,441.54 1009.00,439.39 1010.00,441.00 1011.00,439.99 1012.00,440.31 1013.00,438.68 1014.00,441.09 1015.00,440.31 1016.00,441.63 1017.00,439.88 1018.00,439.15 1019.00,439.82 1020.00,439.69 1021.00,439.03 1022.00,441.75 1023.00,439.61 1024.00,439.96 1025.00,439.78 1026.00,439.54 1027.00,441.44 1028.00,440.78 1029.00,441.35 1030.00,440.79 1031.00,440.60 1032.00,441.50 1033.00,439.70 1034.00,441.10 1035.00,440.28 1036.00,441.77 1037.00,439.56 1038.00,440.09 1038.00,488.15 1037.00,484.35 1036.00,487.88 1035.00,489.32 1034.00,472.25 1033.00,484.60 1032.00,485.41 1031.00,486.69 1030.00,483.68 1029.00,488.12 1028.00,492.85 1027.00,478.59 1026.00,482.46 1025.00,490.41 1024.00,486.65 1023.00,485.54 1022.00,487.12 1021.00,482.24 1020.00,481.32 1019.00,484.57 1018.00,472.16 1017.00,483.89 1016.00,484.39 1015.00,488.21 1014.00,481.54 1013.00,488.24 1012.00,482.15 1011.00,483.74 1010.00,483.43 1009.00,495.82 1008.00,486.04 1007.00,487.14 1006.00,485.17 1005.00,478.77 1004.00,486.92 1003.00,487.71 1002.00,485.81 1001.00,483.74 1000.00,486.33 999.00,487.66 998.00,483.41 997.00,487.11 996.00,485.20 995.00,494.67 994.00,485.73 993.00,486.00 992.00,483.38 991.00,481.53 990.00,498.17 989.00,485.00 988.00,488.05 987.00,480.04 986.00,486.15 985.00,483.83 984.00,470.02 983.00,482.39 982.00,489.28 981.00,483.86 980.00,486.55 979.00,481.78 978.00,470.13 977.00,479.63 976.00,480.24 975.00,488.01 974.00,493.29 973.00,482.62 972.00,479.35 971.00,480.88 970.00,479.48 969.00,484.28 968.00,483.53 967.00,494.68 966.00,480.85 965.00,478.59 964.00,480.26 963.00,488.37 962.00,479.79 961.00,484.46 960.00,478.58 959.00,475.36 958.00,483.43 957.00,482.14 956.00,480.46 955.00,481.29 954.00,471.79 953.00,477.53 952.00,479.04 951.00,476.92 950.00,483.28 949.00,477.06 948.00,472.99 947.00,465.88 946.00,487.62 945.00,480.06 944.00,482.72 943.00,474.79 942.00,487.46 941.00,477.16 940.00,481.99 939.00,478.31 938.00,481.59 937.00,475.86 936.00,480.75 935.00,480.33 934.00,477.69 933.00,478.45 932.00,482.87 931.00,470.61 930.00,485.77 929.00,480.70 928.00,478.19 927.00,477.69 926.00,475.87 925.00,476.20 924.00,479.20 923.00,481.33 922.00,473.26 921.00,475.72 920.00,484.70 919.00,480.04 918.00,475.33 917.00,475.07 916.00,475.89 915.00,465.94 914.00,475.50 913.00,473.17 912.00,470.96 911.00,478.67 910.00,469.41 909.00,469.18 908.00,472.27 907.00,464.72 906.00,486.48 905.00,484.65 904.00,474.06 903.00,467.92 902.00,472.83 901.00,480.79 900.00,471.57 899.00,467.14 898.00,468.03 897.00,477.99 896.00,470.40 895.00,465.57 894.00,469.15 893.00,478.59 892.00,468.89 891.00,467.37 890.00,465.94 889.00,463.85 888.00,466.93 887.00,465.33 886.00,459.31 885.00,460.32 884.00,448.60 883.00,459.49 882.00,461.99 881.00,465.76 880.00,462.99" fill="#7b4fc9"/>
<polyline points="800.00,431.92 803.40,434.37 807.08,432.59 809.08,439.94 811.36,433.08 813.48,438.79 816.59,431.90 818.67,442.23 820.89,434.00 824.15,438.73 826.81,433.44 829.25,442.82 831.66,433.01 835.28,441.30 837.34,433.65 839.40,441.36 842.25,436.19 845.51,443.60 848.68,435.69" fill="none" stroke="#7b4fc9" stroke-width="2.0" stroke-linejoin="round"/>
<polyline points="557.30,335.90 643.70,355.20 653.60,360.10 661.40,359.50 690.00,366.00 720.00,371.00" fill="none" stroke="#c45cf5" stroke-width="2.2" stroke-linejoin="round" stroke-dasharray="8.1 3.5"/>
<polyline points="752.00,376.40 770.00,376.40 790.00,380.00 810.00,386.00" fill="none" stroke="#44dcee" stroke-width="2.2" stroke-linejoin="round" stroke-dasharray="8.1 3.5"/>
<polyline points="752.00,377.70 770.00,379.00 790.00,382.00 815.00,386.00" fill="none" stroke="#f5a262" stroke-width="2.2" stroke-linejoin="round" stroke-dasharray="8.1 3.5"/>
<polyline points="708.00,364.80 745.00,384.40 757.00,382.60 765.00,377.70 775.00,378.30 790.00,390.00 820.00,394.00" fill="none" stroke="#a68a78" stroke-width="2.2" stroke-linejoin="round" stroke-dasharray="8.1 3.5"/>
<polyline points="643.40,392.60 690.00,405.20 720.00,408.90 735.00,412.60 748.00,420.00 760.00,421.10 780.00,421.80 800.00,427.30" fill="none" stroke="#e8724c" stroke-width="2.2" stroke-linejoin="round" stroke-dasharray="8.1 3.5"/>
<polyline points="668.40,403.70 690.00,408.90 740.00,418.70 765.00,427.30 772.00,432.20 780.00,429.70 800.00,433.00" fill="none" stroke="#7b4fc9" stroke-width="2.2" stroke-linejoin="round" stroke-dasharray="8.1 3.5"/>
<polyline points="191.00,65.00 548.50,236.00" fill="none" stroke="#1f77b4" stroke-width="2.2" stroke-linejoin="round"/>
<polyline points="276.50,20.00 524.50,87.60" fill="none" stroke="#9467bd" stroke-width="2.2" stroke-linejoin="round"/>
<polyline points="375.20,26.60 511.80,89.60" fill="none" stroke="#2ca02c" stroke-width="2.2" stroke-linejoin="round"/>
<polyline points="375.50,264.60 659.70,360.10" fill="none" stroke="#e377c2" stroke-width="2.2" stroke-linejoin="round"/>
<polyline points="547.30,293.50 758.40,369.70" fill="none" stroke="#17becf" stroke-width="2.2" stroke-linejoin="round"/>
<polyline points="954.20,395.70 981.40,396.90 986.00,393.80 1015.60,392.00 1017.00,394.50 1096.00,391.00 1102.00,380.40 1116.00,390.30 1122.00,389.00 1130.30,382.50 1150.40,376.10 1154.00,370.70 1158.70,370.70 1161.00,376.10 1168.00,367.80 1176.40,366.00 1182.30,360.30 1184.70,363.10 1190.60,360.30 1200.00,363.60 1202.70,354.80" fill="none" stroke="#1f77b4" stroke-width="2.2" stroke-linejoin="round"/>
<polyline points="750.90,391.80 782.80,391.80" fill="none" stroke="#ff7f0e" stroke-width="2.2" stroke-linejoin="round" stroke-dasharray="8.1 3.5"/>
<polyline points="794.00,387.40 828.80,387.40" fill="none" stroke="#d62728" stroke-width="2.2" stroke-linejoin="round" stroke-dasharray="8.1 3.5"/>
<polyline points="905.30,403.10 942.60,403.10" fill="none" stroke="#8c564b" stroke-width="2.2" stroke-linejoin="round" stroke-dasharray="8.1 3.5"/>
<polyline points="916.90,376.40 966.80,376.40" fill="none" stroke="#7f7f7f" stroke-width="2.2" stroke-linejoin="round" stroke-dasharray="8.1 3.5"/>
<polyline points="954.20,406.80 1065.80,406.80" fill="none" stroke="#bcbd22" stroke-width="2.2" stroke-linejoin="round" stroke-dasharray="8.1 3.5"/>
<line x1="129.46" y1="559" x2="1237.5" y2="643.7" stroke="#4b6274" stroke-width="3.3" stroke-dasharray="3.3 5.5"/>
<line x1="129.46" y1="397.1" x2="1237.5" y2="516.8" stroke="#c47a12" stroke-width="3.3" stroke-dasharray="3.3 5.5"/>
<line x1="129.46" y1="445.3" x2="1237.5" y2="616" stroke="#dc2a5a" stroke-width="3.3" stroke-dasharray="3.3 5.5"/>
<line x1="129.46" y1="482.7" x2="1237.5" y2="653.5" stroke="#6e5d4a" stroke-width="3.3" stroke-dasharray="3.3 5.5"/>
</g>
<rect x="129.46" y="8.33" width="1108.04" height="646.12" fill="none" stroke="#000" stroke-width="1.05"/>
<path d="M129.46 654.45v3.4M252.58 654.45v3.4M375.69 654.45v3.4M498.81 654.45v3.4M621.92 654.45v3.4M745.04 654.45v3.4M868.15 654.45v3.4M991.27 654.45v3.4M1114.38 654.45v3.4M1237.50 654.45v3.4M129.46 45.60h-3.5M129.46 121.71h-3.5M129.46 197.82h-3.5M129.46 273.92h-3.5M129.46 350.03h-3.5M129.46 426.14h-3.5M129.46 502.25h-3.5M129.46 578.36h-3.5M129.46 654.46h-3.5" stroke="#000" stroke-width="1.1"/>
<path d="M166.52 654.45v1.6M188.20 654.45v1.6M203.58 654.45v1.6M215.51 654.45v1.6M225.26 654.45v1.6M233.50 654.45v1.6M240.64 654.45v1.6M246.94 654.45v1.6M289.64 654.45v1.6M311.32 654.45v1.6M326.70 654.45v1.6M338.63 654.45v1.6M348.38 654.45v1.6M356.62 654.45v1.6M363.76 654.45v1.6M370.06 654.45v1.6M412.75 654.45v1.6M434.43 654.45v1.6M449.81 654.45v1.6M461.75 654.45v1.6M471.49 654.45v1.6M479.74 654.45v1.6M486.88 654.45v1.6M493.17 654.45v1.6M535.87 654.45v1.6M557.55 654.45v1.6M572.93 654.45v1.6M584.86 654.45v1.6M594.61 654.45v1.6M602.85 654.45v1.6M609.99 654.45v1.6M616.29 654.45v1.6M658.98 654.45v1.6M680.66 654.45v1.6M696.05 654.45v1.6M707.98 654.45v1.6M717.72 654.45v1.6M725.97 654.45v1.6M733.11 654.45v1.6M739.40 654.45v1.6M782.10 654.45v1.6M803.78 654.45v1.6M819.16 654.45v1.6M831.09 654.45v1.6M840.84 654.45v1.6M849.08 654.45v1.6M856.22 654.45v1.6M862.52 654.45v1.6M905.21 654.45v1.6M926.89 654.45v1.6M942.28 654.45v1.6M954.21 654.45v1.6M963.96 654.45v1.6M972.20 654.45v1.6M979.34 654.45v1.6M985.64 654.45v1.6M1028.33 654.45v1.6M1050.01 654.45v1.6M1065.39 654.45v1.6M1077.32 654.45v1.6M1087.07 654.45v1.6M1095.31 654.45v1.6M1102.45 654.45v1.6M1108.75 654.45v1.6M1151.45 654.45v1.6M1173.13 654.45v1.6M1188.51 654.45v1.6M1200.44 654.45v1.6M1210.19 654.45v1.6M1218.43 654.45v1.6M1225.57 654.45v1.6M1231.87 654.45v1.6" stroke="#000" stroke-width="1.1"/>
<text transform="translate(59.35,55.52) scale(1.0792,1)" font-family="Liberation Sans, sans-serif" font-size="28.53">10</text>
<rect x="96.1" y="38.30" width="12.8" height="1.65" fill="#000"/>
<text transform="translate(110.69,45.50) scale(1.0191,1)" font-family="Liberation Sans, sans-serif" font-size="20.90">3</text>
<text transform="translate(59.35,131.63) scale(1.0792,1)" font-family="Liberation Sans, sans-serif" font-size="28.53">10</text>
<rect x="96.1" y="114.41" width="12.8" height="1.65" fill="#000"/>
<text transform="translate(110.36,121.81) scale(1.0328,1)" font-family="Liberation Sans, sans-serif" font-size="21.51">7</text>
<text transform="translate(47.35,207.54) scale(1.0846,1)" font-family="Liberation Sans, sans-serif" font-size="28.39">10</text>
<rect x="84.2" y="190.32" width="11.9" height="1.65" fill="#000"/>
<text transform="translate(99.03,197.72) scale(0.9737,1)" font-family="Liberation Sans, sans-serif" font-size="21.22">11</text>
<text transform="translate(47.35,283.65) scale(1.0846,1)" font-family="Liberation Sans, sans-serif" font-size="28.39">10</text>
<rect x="84.2" y="266.42" width="11.9" height="1.65" fill="#000"/>
<text transform="translate(99.04,273.62) scale(0.9807,1)" font-family="Liberation Sans, sans-serif" font-size="20.92">15</text>
<text transform="translate(47.35,359.75) scale(1.0846,1)" font-family="Liberation Sans, sans-serif" font-size="28.39">10</text>
<rect x="84.2" y="342.53" width="11.9" height="1.65" fill="#000"/>
<text transform="translate(99.03,349.73) scale(1.0005,1)" font-family="Liberation Sans, sans-serif" font-size="20.62">19</text>
<text transform="translate(47.35,435.86) scale(1.0846,1)" font-family="Liberation Sans, sans-serif" font-size="28.39">10</text>
<rect x="84.2" y="418.64" width="11.9" height="1.65" fill="#000"/>
<text transform="translate(99.59,425.84) scale(0.9717,1)" font-family="Liberation Sans, sans-serif" font-size="20.62">23</text>
<text transform="translate(47.35,511.97) scale(1.0846,1)" font-family="Liberation Sans, sans-serif" font-size="28.39">10</text>
<rect x="84.2" y="494.75" width="11.9" height="1.65" fill="#000"/>
<text transform="translate(99.59,502.15) scale(0.9643,1)" font-family="Liberation Sans, sans-serif" font-size="20.91">27</text>
<text transform="translate(47.35,588.08) scale(1.0846,1)" font-family="Liberation Sans, sans-serif" font-size="28.39">10</text>
<rect x="84.2" y="570.86" width="11.9" height="1.65" fill="#000"/>
<text transform="translate(99.84,578.05) scale(0.9648,1)" font-family="Liberation Sans, sans-serif" font-size="20.62">31</text>
<text transform="translate(47.35,664.19) scale(1.0846,1)" font-family="Liberation Sans, sans-serif" font-size="28.39">10</text>
<rect x="84.2" y="646.96" width="11.9" height="1.65" fill="#000"/>
<text transform="translate(99.85,654.16) scale(0.9584,1)" font-family="Liberation Sans, sans-serif" font-size="20.62">35</text>
<text transform="translate(98.50,682.51) scale(1.0600,1)" font-family="Liberation Sans, sans-serif" font-size="29.24">10</text>
<rect x="135.66" y="664.9" width="12.4" height="1.8" fill="#000"/>
<text transform="translate(150.09,671.71) scale(1.0708,1)" font-family="Liberation Sans, sans-serif" font-size="19.63">6</text>
<text transform="translate(221.61,682.51) scale(1.0600,1)" font-family="Liberation Sans, sans-serif" font-size="29.24">10</text>
<rect x="258.78" y="664.9" width="12.4" height="1.8" fill="#000"/>
<text transform="translate(273.46,671.71) scale(1.0270,1)" font-family="Liberation Sans, sans-serif" font-size="19.92">5</text>
<text transform="translate(344.73,682.51) scale(1.0600,1)" font-family="Liberation Sans, sans-serif" font-size="29.24">10</text>
<rect x="381.89" y="664.9" width="12.4" height="1.8" fill="#000"/>
<text transform="translate(396.95,671.90) scale(0.9528,1)" font-family="Liberation Sans, sans-serif" font-size="20.20">4</text>
<text transform="translate(467.85,682.51) scale(1.0600,1)" font-family="Liberation Sans, sans-serif" font-size="29.24">10</text>
<rect x="505.01" y="664.9" width="12.4" height="1.8" fill="#000"/>
<text transform="translate(519.73,671.71) scale(1.0421,1)" font-family="Liberation Sans, sans-serif" font-size="19.63">3</text>
<text transform="translate(590.96,682.51) scale(1.0600,1)" font-family="Liberation Sans, sans-serif" font-size="29.24">10</text>
<rect x="628.12" y="664.9" width="12.4" height="1.8" fill="#000"/>
<text transform="translate(642.55,671.90) scale(1.0696,1)" font-family="Liberation Sans, sans-serif" font-size="19.91">2</text>
<text transform="translate(714.08,682.51) scale(1.0600,1)" font-family="Liberation Sans, sans-serif" font-size="29.24">10</text>
<rect x="751.24" y="664.9" width="12.4" height="1.8" fill="#000"/>
<text transform="translate(766.84,671.90) scale(0.9069,1)" font-family="Liberation Sans, sans-serif" font-size="20.20">1</text>
<text transform="translate(845.00,682.51) scale(1.0566,1)" font-family="Liberation Sans, sans-serif" font-size="29.24">10</text>
<text transform="translate(881.20,671.71) scale(0.9803,1)" font-family="Liberation Sans, sans-serif" font-size="19.63">0</text>
<text transform="translate(968.12,682.51) scale(1.0566,1)" font-family="Liberation Sans, sans-serif" font-size="29.24">10</text>
<text transform="translate(1004.00,671.90) scale(0.9528,1)" font-family="Liberation Sans, sans-serif" font-size="20.20">1</text>
<text transform="translate(1091.23,682.51) scale(1.0566,1)" font-family="Liberation Sans, sans-serif" font-size="29.24">10</text>
<text transform="translate(1127.17,671.90) scale(1.0144,1)" font-family="Liberation Sans, sans-serif" font-size="19.91">2</text>
<text transform="translate(1214.35,682.51) scale(1.0566,1)" font-family="Liberation Sans, sans-serif" font-size="29.24">10</text>
<text transform="translate(1250.56,671.71) scale(0.9884,1)" font-family="Liberation Sans, sans-serif" font-size="19.63">3</text>
<text transform="translate(570.38,720.60) scale(1.0889,1)" font-family="Liberation Sans, sans-serif" font-size="28.20">Frequency</text>
<text transform="translate(729.30,720.60) scale(0.8180,1)" font-family="Liberation Serif, serif" font-size="28.00">[</text>
<text transform="translate(737.43,720.60) scale(1.0137,1)" font-family="Liberation Serif, serif" font-style="italic" font-size="28.00">GHz</text>
<text transform="translate(790.17,720.60) scale(0.8180,1)" font-family="Liberation Serif, serif" font-size="28.00">]</text>
<g transform="translate(0,735) rotate(-90)">
<text transform="translate(244.20,29.10) scale(1.0876,1)" font-family="Liberation Sans, sans-serif" font-size="29.00">Characteristic Strain</text>
<text transform="translate(540.32,29.10) scale(0.9307,1)" font-family="Liberation Serif, serif" font-style="italic" font-size="29.00">h</text>
<text transform="translate(554.28,32.60) scale(1.0066,1)" font-family="Liberation Serif, serif" font-style="italic" font-size="20.00">c</text>
</g>
<rect x="136.75" y="79.5" width="236.25" height="142.0" rx="2.5" fill="#fff" fill-opacity="0.95" stroke="#cccccc" stroke-width="1"/>
<text x="152.00" y="96.4" font-family="Liberation Sans, sans-serif" font-size="14.6" textLength="205.00" lengthAdjust="spacingAndGlyphs">Cavity-based Experiments</text>
<line x1="140.5" y1="111.6" x2="169.5" y2="111.6" stroke="#2ca02c" stroke-width="2.2"/>
<text x="178.80" y="116.40" font-family="Liberation Sans, sans-serif" font-size="13.2" textLength="36.20" lengthAdjust="spacingAndGlyphs">ABRA</text>
<line x1="140.5" y1="131.2" x2="169.5" y2="131.2" stroke="#9467bd" stroke-width="2.2"/>
<text x="178.80" y="136.00" font-family="Liberation Sans, sans-serif" font-size="13.2" textLength="43.00" lengthAdjust="spacingAndGlyphs">SHAFT</text>
<line x1="140.5" y1="150.8" x2="169.5" y2="150.8" stroke="#1f77b4" stroke-width="2.2"/>
<text x="178.80" y="155.60" font-family="Liberation Sans, sans-serif" font-size="13.2" textLength="24.60" lengthAdjust="spacingAndGlyphs">50L</text>
<line x1="140.5" y1="170.4" x2="169.5" y2="170.4" stroke="#17becf" stroke-width="2.2"/>
<text x="178.80" y="175.20" font-family="Liberation Sans, sans-serif" font-size="13.2" textLength="21.40" lengthAdjust="spacingAndGlyphs">m3</text>
<line x1="140.5" y1="190.0" x2="169.5" y2="190.0" stroke="#e377c2" stroke-width="2.2"/>
<text x="178.80" y="194.80" font-family="Liberation Sans, sans-serif" font-size="13.2" textLength="28.20" lengthAdjust="spacingAndGlyphs">GUT</text>
<line x1="140.5" y1="209.6" x2="169.5" y2="209.6" stroke="#1f77b4" stroke-width="2.2"/>
<text x="178.80" y="214.40" font-family="Liberation Sans, sans-serif" font-size="13.2" textLength="25.70" lengthAdjust="spacingAndGlyphs">TAC</text>
<line x1="249.2" y1="111.6" x2="276.2" y2="111.6" stroke="#ff7f0e" stroke-width="2.2" stroke-dasharray="8.1 3.5"/>
<text x="286.40" y="116.40" font-family="Liberation Sans, sans-serif" font-size="13.2" textLength="82.00" lengthAdjust="spacingAndGlyphs">FLASH LowT</text>
<line x1="249.2" y1="131.2" x2="276.2" y2="131.2" stroke="#d62728" stroke-width="2.2" stroke-dasharray="8.1 3.5"/>
<text x="286.40" y="136.00" font-family="Liberation Sans, sans-serif" font-size="13.2" textLength="65.10" lengthAdjust="spacingAndGlyphs">BabyIAXO</text>
<line x1="249.2" y1="150.8" x2="276.2" y2="150.8" stroke="#8c564b" stroke-width="2.2" stroke-dasharray="8.1 3.5"/>
<text x="286.40" y="155.60" font-family="Liberation Sans, sans-serif" font-size="13.2" textLength="69.40" lengthAdjust="spacingAndGlyphs">ADMX EFR</text>
<line x1="249.2" y1="170.4" x2="276.2" y2="170.4" stroke="#7f7f7f" stroke-width="2.2" stroke-dasharray="8.1 3.5"/>
<text x="286.40" y="175.20" font-family="Liberation Sans, sans-serif" font-size="13.2" textLength="59.80" lengthAdjust="spacingAndGlyphs">HAYSTAC</text>
<line x1="249.2" y1="190.0" x2="276.2" y2="190.0" stroke="#bcbd22" stroke-width="2.2" stroke-dasharray="8.1 3.5"/>
<text x="286.40" y="194.80" font-family="Liberation Sans, sans-serif" font-size="13.2" textLength="43.20" lengthAdjust="spacingAndGlyphs">ALPHA</text>
<rect x="136.9" y="259.7" width="333.70000000000005" height="142.3" rx="2.5" fill="#fff" fill-opacity="0.95" stroke="#cccccc" stroke-width="1"/>
<text x="236.90" y="277.0" font-family="Liberation Sans, sans-serif" font-size="14.6" textLength="133.20" lengthAdjust="spacingAndGlyphs">Radio Telescopes</text>
<line x1="140.5" y1="292.2" x2="169.2" y2="292.2" stroke="#c45cf5" stroke-width="2.2"/>
<text x="178.80" y="297.00" font-family="Liberation Sans, sans-serif" font-size="13.2" textLength="77.80" lengthAdjust="spacingAndGlyphs">FAST S/R=1</text>
<line x1="317" y1="292.2" x2="343.5" y2="292.2" stroke="#c45cf5" stroke-width="2.2" stroke-dasharray="8.1 3.5"/>
<text x="353.40" y="297.00" font-family="Liberation Sans, sans-serif" font-size="13.2" textLength="78.40" lengthAdjust="spacingAndGlyphs">FAST S/R=5</text>
<line x1="140.5" y1="312.0" x2="169.2" y2="312.0" stroke="#44dcee" stroke-width="2.2"/>
<text x="178.80" y="316.80" font-family="Liberation Sans, sans-serif" font-size="13.2" textLength="73.10" lengthAdjust="spacingAndGlyphs">GBT S/R=1</text>
<line x1="317" y1="312.0" x2="343.5" y2="312.0" stroke="#44dcee" stroke-width="2.2" stroke-dasharray="8.1 3.5"/>
<text x="353.40" y="316.80" font-family="Liberation Sans, sans-serif" font-size="13.2" textLength="73.70" lengthAdjust="spacingAndGlyphs">GBT S/R=5</text>
<line x1="140.5" y1="331.4" x2="169.2" y2="331.4" stroke="#f5a262" stroke-width="2.2"/>
<text x="178.80" y="336.20" font-family="Liberation Sans, sans-serif" font-size="13.2" textLength="72.30" lengthAdjust="spacingAndGlyphs">QTT S/R=1</text>
<line x1="317" y1="331.4" x2="343.5" y2="331.4" stroke="#f5a262" stroke-width="2.2" stroke-dasharray="8.1 3.5"/>
<text x="353.40" y="336.20" font-family="Liberation Sans, sans-serif" font-size="13.2" textLength="72.80" lengthAdjust="spacingAndGlyphs">QTT S/R=5</text>
<line x1="140.5" y1="350.8" x2="169.2" y2="350.8" stroke="#a68a78" stroke-width="2.2"/>
<text x="178.80" y="355.60" font-family="Liberation Sans, sans-serif" font-size="13.2" textLength="81.40" lengthAdjust="spacingAndGlyphs">TMRT S/R=1</text>
<line x1="317" y1="350.8" x2="343.5" y2="350.8" stroke="#a68a78" stroke-width="2.2" stroke-dasharray="8.1 3.5"/>
<text x="353.40" y="355.60" font-family="Liberation Sans, sans-serif" font-size="13.2" textLength="81.90" lengthAdjust="spacingAndGlyphs">TMRT S/R=5</text>
<line x1="140.5" y1="370.2" x2="169.2" y2="370.2" stroke="#e8724c" stroke-width="2.2"/>
<text x="178.80" y="375.00" font-family="Liberation Sans, sans-serif" font-size="13.2" textLength="111.20" lengthAdjust="spacingAndGlyphs">SKA1-MID S/R=1</text>
<line x1="317" y1="370.2" x2="343.5" y2="370.2" stroke="#e8724c" stroke-width="2.2" stroke-dasharray="8.1 3.5"/>
<text x="353.40" y="375.00" font-family="Liberation Sans, sans-serif" font-size="13.2" textLength="111.40" lengthAdjust="spacingAndGlyphs">SKA1-MID S/R=5</text>
<line x1="140.5" y1="389.6" x2="169.2" y2="389.6" stroke="#7b4fc9" stroke-width="2.2"/>
<text x="178.80" y="394.40" font-family="Liberation Sans, sans-serif" font-size="13.2" textLength="80.00" lengthAdjust="spacingAndGlyphs">SKA2 S/R=1</text>
<line x1="317" y1="389.6" x2="343.5" y2="389.6" stroke="#7b4fc9" stroke-width="2.2" stroke-dasharray="8.1 3.5"/>
<text x="353.40" y="394.40" font-family="Liberation Sans, sans-serif" font-size="13.2" textLength="80.50" lengthAdjust="spacingAndGlyphs">SKA2 S/R=5</text>
<rect x="136.5" y="543.5" width="202.0" height="103.5" rx="2.5" fill="#fff" fill-opacity="0.85" stroke="#cccccc" stroke-width="1"/>
<text x="144.30" y="560.5" font-family="Liberation Sans, sans-serif" font-size="14.6" textLength="185.80" lengthAdjust="spacingAndGlyphs">Theoretical GW Sources</text>
<line x1="142" y1="576.2" x2="169" y2="576.2" stroke="#4b6274" stroke-width="3.3" stroke-dasharray="3.3 5.5"/>
<text x="178.80" y="581.00" font-family="Liberation Sans, sans-serif" font-size="13.2" textLength="67.00" lengthAdjust="spacingAndGlyphs">Reheating</text>
<line x1="142" y1="595.9" x2="169" y2="595.9" stroke="#c47a12" stroke-width="3.3" stroke-dasharray="3.3 5.5"/>
<text x="178.80" y="600.70" font-family="Liberation Sans, sans-serif" font-size="13.2" textLength="97.90" lengthAdjust="spacingAndGlyphs">Primordial BHs</text>
<line x1="142" y1="615.4" x2="169" y2="615.4" stroke="#dc2a5a" stroke-width="3.3" stroke-dasharray="3.3 5.5"/>
<text x="178.80" y="620.20" font-family="Liberation Sans, sans-serif" font-size="13.2" textLength="75.00" lengthAdjust="spacingAndGlyphs">BBN Bound</text>
<line x1="142" y1="634.3" x2="169" y2="634.3" stroke="#6e5d4a" stroke-width="3.3" stroke-dasharray="3.3 5.5"/>
<text x="178.80" y="639.10" font-family="Liberation Sans, sans-serif" font-size="13.2" textLength="154.00" lengthAdjust="spacingAndGlyphs">Cosmic Strings Plateau</text>
</svg></body></html>
